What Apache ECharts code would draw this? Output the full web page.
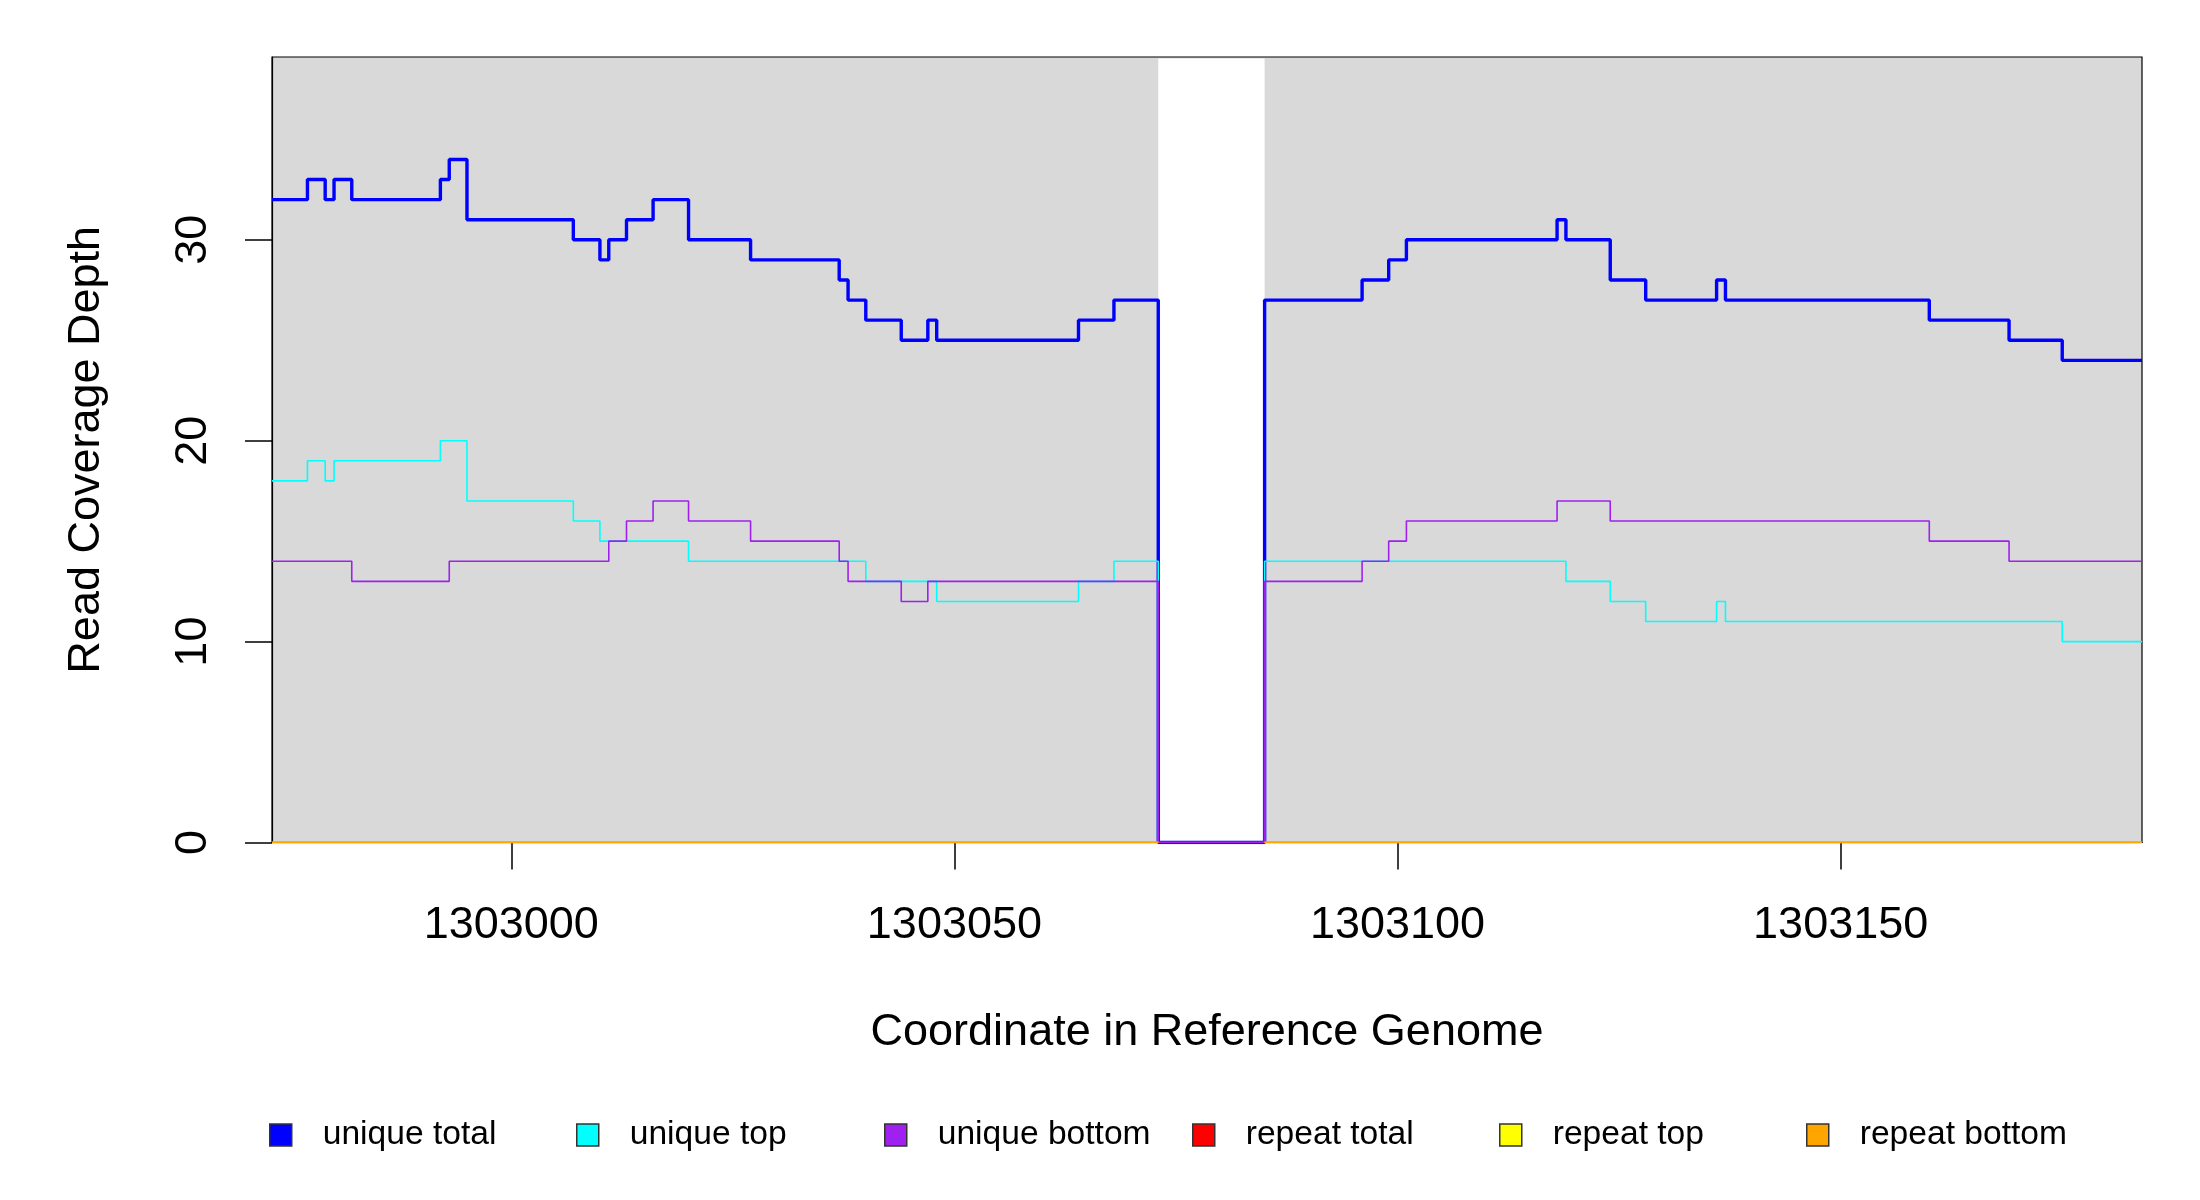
<!DOCTYPE html>
<html>
<head>
<meta charset="utf-8">
<script src="https://cdn.jsdelivr.net/npm/echarts@6/dist/echarts.min.js"></script>
<style>
  html, body { margin: 0; padding: 0; background: #ffffff; }
  #chart { width: 2200px; height: 1200px; }
</style>
</head>
<body>
<div id="chart"></div>
<script>
// ---- Data (step breakpoints: value starts at position) ----
const uniqueTotalX = [1302973, 1302977, 1302979, 1302980, 1302982, 1302992, 1302993, 1302995,
  1303007, 1303010, 1303011, 1303013, 1303016, 1303020, 1303027, 1303037, 1303038, 1303040,
  1303044, 1303047, 1303048, 1303064, 1303068, 1303073, 1303085, 1303096, 1303099, 1303101,
  1303118, 1303119, 1303124, 1303128, 1303136, 1303137, 1303160, 1303169, 1303175, 1303184];
const uniqueTotalY = [32, 33, 32, 33, 32, 33, 34, 31,
  30, 29, 30, 31, 32, 30, 29, 28, 27, 26,
  25, 26, 25, 26, 27, 0, 27, 28, 29, 30,
  31, 30, 28, 27, 28, 27, 26, 25, 24, 24];

const uniqueTopX = [1302973, 1302977, 1302979, 1302980, 1302992, 1302995, 1303007, 1303010,
  1303020, 1303040, 1303048, 1303064, 1303068, 1303073, 1303085, 1303119, 1303124, 1303128,
  1303136, 1303137, 1303175, 1303184];
const uniqueTopY = [18, 19, 18, 19, 20, 17, 16, 15,
  14, 13, 12, 13, 14, 0, 14, 13, 12, 11,
  12, 11, 10, 10];

const uniqueBottomX = [1302973, 1302982, 1302993, 1303011, 1303013, 1303016, 1303020, 1303027,
  1303037, 1303038, 1303044, 1303047, 1303073, 1303085, 1303096, 1303099, 1303101, 1303118,
  1303124, 1303160, 1303169, 1303184];
const uniqueBottomY = [14, 13, 14, 15, 16, 17, 16, 15,
  14, 13, 12, 13, 0, 13, 14, 15, 16, 17,
  16, 15, 14, 14];

const repeatX = [1302973, 1303073, 1303073, 1303085, 1303184];
const repeatTotalY = [0, 0, null, 0, 0];
const repeatTopY = [0, 0, null, 0, 0];
const repeatBottomY = [0, 0, null, 0, 0];

const gapRange = [1303073, 1303085];
const xRange = [1302973, 1303184];
const yMax = 39.1;
const xTickValues = [1303000, 1303050, 1303100, 1303150];
const yTickValues = [0, 10, 20, 30];

const seriesNames = ['unique total', 'unique top', 'unique bottom', 'repeat total', 'repeat top', 'repeat bottom'];
const seriesColors = ['#0000ff', '#00ffff', '#a020f0', '#ff0000', '#ffff00', '#ffa500'];

// ---- Build ----
function zip(xs, ys) {
  return xs.map((x, i) => (ys[i] === null ? [x, '-'] : [x, ys[i]]));
}
const FONT = 'Liberation Sans, Arial, sans-serif';

const seriesData = [
  zip(uniqueTotalX, uniqueTotalY),
  zip(uniqueTopX, uniqueTopY),
  zip(uniqueBottomX, uniqueBottomY),
  zip(repeatX, repeatTotalY),
  zip(repeatX, repeatTopY),
  zip(repeatX, repeatBottomY)
];
const widths = [3.4, 1.6, 1.6, 1.6, 1.6, 2];

const series = seriesNames.map((name, i) => {
  const s = {
    name: name,
    type: 'line',
    step: 'end',
    data: seriesData[i],
    showSymbol: false,
    symbol: 'none',
    connectNulls: false,
    animation: false,
    lineStyle: { color: seriesColors[i], width: widths[i] },
    itemStyle: { color: seriesColors[i] },
    z: 3 + i
  };
  if (i === 0) {
    s.markArea = {
      silent: true,
      z: 1,
      itemStyle: { color: '#ffffff', opacity: 1 },
      data: [[{ xAxis: gapRange[0], yAxis: 0 }, { xAxis: gapRange[1], yAxis: yMax - 0.08 }]]
    };
  }
  return s;
});

const legendLefts = [269, 576, 884, 1192, 1499, 1806];
const legends = seriesNames.map((name, i) => ({
  data: [name],
  left: legendLefts[i],
  top: 1118,
  padding: 0,
  icon: 'rect',
  itemWidth: 22,
  itemHeight: 22,
  itemStyle: { borderColor: '#333333', borderWidth: 1.5 },
  selectedMode: false,
  textStyle: { fontSize: 33.6, color: '#000', fontFamily: FONT, padding: [0, 0, 0, 26] }
}));

const chart = echarts.init(document.getElementById('chart'), null, { renderer: 'canvas' });
chart.setOption({
  backgroundColor: '#ffffff',
  animation: false,
  legend: legends,
  grid: {
    left: 272, right: 58, top: 57, bottom: 357.5,
    show: true,
    backgroundColor: '#d9d9d9',
    borderColor: '#000000',
    borderWidth: 1.2
  },
  xAxis: {
    type: 'value',
    min: xRange[0],
    max: xRange[1],
    name: 'Coordinate in Reference Genome',
    nameLocation: 'middle',
    nameGap: 168,
    nameTextStyle: { fontSize: 45, color: '#000', fontFamily: FONT },
    splitLine: { show: false },
    axisLine: { show: true, onZero: false, lineStyle: { color: '#000', width: 1.2 } },
    axisTick: { show: true, length: 27, lineStyle: { color: '#000', width: 1.5 }, customValues: xTickValues },
    axisLabel: { fontSize: 45, color: '#000', fontFamily: FONT, margin: 61, customValues: xTickValues,
      formatter: v => String(v) }
  },
  yAxis: {
    type: 'value',
    min: 0,
    max: yMax,
    name: 'Read Coverage Depth',
    nameLocation: 'middle',
    nameGap: 163,
    nameRotate: 90,
    nameTextStyle: { fontSize: 45, color: '#000', fontFamily: FONT },
    splitLine: { show: false },
    axisLine: { show: true, lineStyle: { color: '#000', width: 1.2 } },
    axisTick: { show: true, length: 27, lineStyle: { color: '#000', width: 1.5 }, customValues: yTickValues },
    axisLabel: { fontSize: 45, color: '#000', fontFamily: FONT, margin: 56, rotate: 90,
      customValues: yTickValues, formatter: v => String(v) }
  },
  series: series
});
</script>
</body>
</html>
